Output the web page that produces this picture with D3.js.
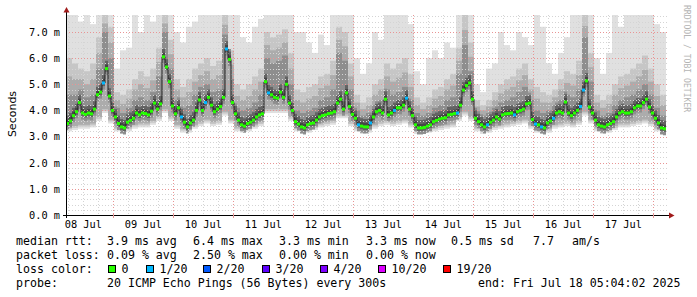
<!DOCTYPE html>
<html>
<head>
<meta charset="utf-8">
<script src="https://cdn.jsdelivr.net/npm/d3@7/dist/d3.min.js"></script>
<style>
	body { margin: 0; background: #fff; }
	text { font-family: "DejaVu Sans Mono", monospace; }
</style>
</head>
<body>
<svg id="canvas"></svg>
<script>
var width = 697,
	height = 297;

// 10 day window
var start = Date.UTC(2025, 6, 8, 5, 4, 2),
	end = Date.UTC(2025, 6, 18, 5, 4, 2);

// median rtt (ms), one value per 72 min column
var median = [
	3.5, 3.6, 3.8, 3.95, 4.3, 3.9, 3.85, 3.9, 3.87, 4.05,
	4.6, 4.7, 5.05, 5.6, 4.55, 4.0, 3.75, 3.5, 3.37, 3.33,
	3.55, 3.62, 3.7, 3.9, 3.83, 3.9, 3.88, 3.83, 3.97, 4.28,
	4.05, 4.25, 6.05, 5.66, 5.1, 4.17, 3.87, 4.1, 3.75, 3.55,
	3.37, 3.52, 3.63, 4.0, 4.4, 4.0, 4.3, 4.5, 4.2, 3.95,
	4.05, 4.15, 4.5, 6.35, 5.95, 4.3, 3.87, 3.63, 3.45, 3.4,
	3.5, 3.55, 3.63, 3.75, 3.83, 3.87, 5.1, 4.67, 4.6, 4.5,
	4.47, 4.7, 4.5, 5.0, 4.28, 4.0, 3.57, 3.48, 3.37, 3.33,
	3.45, 3.5, 3.52, 3.63, 3.75, 3.8, 3.83, 3.88, 3.9, 3.95,
	4.28, 4.43, 4.05, 4.67, 4.15, 3.85, 3.7, 3.45, 3.4, 3.37,
	3.37, 3.52, 3.75, 3.95, 4.0, 3.9, 4.43, 3.83, 3.9, 4.0,
	4.1, 4.1, 4.2, 4.47, 4.05, 3.8, 3.45, 3.33, 3.33, 3.35,
	3.4, 3.45, 3.57, 3.62, 3.67, 3.7, 3.72, 3.83, 3.85, 3.88,
	3.9, 4.2, 4.78, 4.95, 5.05, 4.43, 3.7, 3.57, 3.45, 3.37,
	3.45, 3.55, 3.63, 3.75, 3.67, 3.83, 3.87, 3.88, 3.9, 3.83,
	3.95, 4.0, 4.05, 4.25, 4.28, 3.65, 3.48, 3.45, 3.37, 3.33,
	3.52, 3.6, 3.7, 3.9, 3.95, 3.9, 4.32, 3.9, 3.8, 3.9,
	4.0, 4.15, 4.78, 5.13, 4.13, 3.9, 3.63, 3.45, 3.4, 3.37,
	3.45, 3.5, 3.57, 3.75, 3.9, 3.95, 3.9, 3.9, 3.95, 4.1,
	4.17, 4.17, 4.3, 4.43, 4.13, 3.9, 3.7, 3.52, 3.33, 3.3
];

// columns that lost pings, and how many of 20
var lossCols = [12, 38, 46, 53, 67, 97, 101, 109, 113, 130, 140, 149, 156, 158, 162, 171, 172];
var lossPings = [1, 1, 1, 1, 1, 1, 1, 1, 1, 1, 1, 1, 1, 1, 1, 1, 1];

// smoke, one value per 144 min column (ms)
var smokeTop = [
	7.65, 7.65, 7.4, 7.65, 7.3, 7.65, 7.65, 7.65, 5.6, 6.3,
	6.4, 7.65, 7.0, 7.65, 7.4, 7.65, 7.65, 7.65, 7.0, 6.6,
	7.2, 7.4, 7.65, 7.65, 7.65, 7.65, 7.65, 7.65, 7.65, 6.8,
	6.6, 7.2, 7.5, 7.65, 7.65, 7.65, 7.65, 7.65, 7.0, 7.0,
	6.6, 6.2, 6.9, 6.5, 7.65, 7.65, 7.65, 7.65, 6.0, 5.4,
	5.8, 7.0, 6.7, 7.65, 7.65, 7.65, 7.65, 7.3, 5.5, 5.0,
	6.0, 6.3, 6.0, 6.6, 6.4, 7.65, 7.65, 7.65, 5.0, 4.7,
	5.6, 5.8, 7.0, 6.5, 6.3, 7.0, 6.8, 6.5, 7.65, 7.2,
	5.8, 5.4, 6.2, 6.8, 7.65, 7.65, 7.65, 7.65, 6.0, 5.4,
	6.2, 7.65, 7.2, 7.65, 7.65, 7.65, 7.65, 7.65, 7.3, 7.0
];
var smokeP90 = [
	6.0, 5.8, 5.6, 5.5, 5.8, 6.8, 7.65, 7.2, 4.7, 4.6,
	4.8, 5.2, 5.5, 5.3, 5.6, 6.4, 7.65, 6.7, 5.2, 4.9,
	5.2, 5.6, 5.8, 6.0, 5.7, 5.9, 7.65, 6.3, 5.0, 4.8,
	5.0, 5.3, 5.6, 7.0, 6.8, 6.9, 7.1, 6.2, 4.8, 4.7,
	4.9, 5.0, 5.3, 5.4, 5.9, 7.2, 7.0, 5.8, 4.6, 4.3,
	4.5, 5.0, 5.2, 5.8, 5.6, 5.8, 6.0, 5.4, 4.5, 4.3,
	4.5, 4.8, 4.9, 5.2, 5.4, 6.4, 7.65, 6.6, 4.4, 4.2,
	4.4, 4.7, 5.0, 5.2, 5.3, 5.6, 5.8, 5.2, 4.9, 4.7,
	4.6, 4.8, 5.2, 5.5, 5.4, 5.9, 7.65, 6.2, 4.6, 4.4,
	4.6, 5.0, 5.3, 5.4, 5.6, 5.8, 6.1, 5.6, 5.0, 4.6
];
var smokeP75 = [
	4.6, 4.6, 4.8, 4.5, 4.6, 5.6, 7.0, 6.0, 4.1, 3.9,
	4.1, 4.4, 4.5, 4.4, 4.7, 5.3, 7.0, 5.6, 4.4, 4.1,
	4.2, 4.6, 4.9, 5.0, 4.7, 4.8, 6.9, 5.2, 4.1, 4.0,
	4.1, 4.3, 4.6, 6.0, 5.8, 5.9, 6.1, 5.0, 4.0, 3.9,
	4.0, 4.1, 4.4, 4.5, 4.8, 6.2, 5.9, 4.8, 4.0, 3.8,
	3.9, 4.2, 4.4, 4.8, 4.6, 4.7, 4.9, 4.4, 3.9, 3.8,
	3.9, 4.1, 4.2, 4.4, 4.5, 5.4, 6.5, 5.5, 3.9, 3.8,
	3.9, 4.1, 4.3, 4.4, 4.5, 4.7, 4.9, 4.4, 4.0, 3.9,
	4.0, 4.2, 4.4, 4.6, 4.5, 4.8, 6.8, 5.1, 4.0, 3.8,
	3.9, 4.2, 4.4, 4.5, 4.6, 4.8, 5.0, 4.6, 4.1, 3.8
];
var smokeMin = [
	3.2, 3.25, 3.3, 3.3, 3.35, 3.6, 3.9, 3.5, 3.2, 3.1,
	3.2, 3.3, 3.35, 3.35, 3.45, 3.6, 3.9, 3.6, 3.3, 3.15,
	3.15, 3.3, 3.4, 3.5, 3.4, 3.45, 3.8, 3.5, 3.2, 3.15,
	3.2, 3.3, 3.4, 3.9, 3.9, 3.9, 3.9, 3.6, 3.2, 3.1,
	3.15, 3.25, 3.35, 3.4, 3.45, 3.7, 3.7, 3.4, 3.2, 3.1,
	3.15, 3.3, 3.4, 3.45, 3.4, 3.45, 3.5, 3.35, 3.1, 3.1,
	3.15, 3.2, 3.25, 3.3, 3.35, 3.6, 3.8, 3.6, 3.2, 3.1,
	3.15, 3.25, 3.3, 3.35, 3.4, 3.45, 3.5, 3.3, 3.15, 3.1,
	3.15, 3.3, 3.35, 3.4, 3.35, 3.45, 3.8, 3.5, 3.2, 3.1,
	3.15, 3.25, 3.35, 3.35, 3.4, 3.45, 3.5, 3.4, 3.2, 3.1
];

var yTicks = [0, 1, 2, 3, 4, 5, 6, 7];

var lossLabels = ["0", "1/20", "2/20", "3/20", "4/20", "10/20", "19/20"];
var lossLevels = [0, 1, 2, 3, 4, 10, 19];
var lossColors = ["#26ff00", "#00b8ff", "#0059ff", "#5e00ff", "#7e00ff", "#dd00ff", "#ff0000"];

var legendRows = [
	[[16, "median rtt:"], [107, "3.9 ms avg"], [193, "6.4 ms max"], [279, "3.3 ms min"],
		[366, "3.3 ms now"], [451, "0.5 ms sd"], [533, "7.7"], [572, "am/s"]],
	[[16, "packet loss:"], [107, "0.09 % avg"], [193, "2.50 % max"], [279, "0.00 % min"], [366, "0.00 % now"]],
	[[16, "loss color:"]],
	[[16, "probe:"], [107, "20 ICMP Echo Pings (56 Bytes) every 300s"], [478, "end: Fri Jul 18 05:04:02 2025"]]
];

var svg = d3.select("#canvas")
	.attr("width", width)
	.attr("height", height)
	.style("display", "block");

svg.append("rect")
	.attr("width", width)
	.attr("height", height)
	.attr("fill", "#fff");

var x = d3.scaleUtc()
	.domain([start, end])
	.range([66, 666]);

var y = d3.scaleLinear()
	.domain([0, 7.65])
	.range([215, 15]);

var step = (end - start) / median.length,
	smokeStep = (end - start) / smokeTop.length;

function lossColor(n) {
	var c = lossColors[0];
	lossLevels.forEach(function(l, k) {
		if (n >= l) c = lossColors[k];
	});
	return c;
}

var loss = median.map(function() { return 0; });
lossCols.forEach(function(c, k) { loss[c] = lossPings[k]; });

// smoke, coarse bands
var smoke = svg.append("g");
var coarse = d3.range(smokeTop.length);

function band(cls, lo, hi, fill) {
	smoke.selectAll("." + cls)
		.data(coarse)
		.enter()
		.append("rect")
		.attr("x", function(j) { return x(start + j * smokeStep); })
		.attr("width", function(j) { return x(start + (j + 1) * smokeStep) - x(start + j * smokeStep); })
		.attr("y", function(j) { return y(hi(j)); })
		.attr("height", function(j) { return Math.max(0, y(lo(j)) - y(hi(j))); })
		.attr("fill", fill);
}

band("s1", function(j) { return smokeMin[j]; }, function(j) { return smokeTop[j]; }, "#e0e0e0");
band("s2", function(j) { return smokeMin[j] + 0.08; }, function(j) { return smokeP90[j]; }, "#c6c6c6");
band("s3", function(j) { return smokeMin[j] + 0.15; },
	function(j) { return (smokeP90[j] + smokeP75[j]) / 2; }, "#acacac");

// finer bands that follow the median
var cols = d3.range(median.length);

function fine(lo, hi, fill) {
	smoke.append("g")
		.selectAll("rect")
		.data(cols)
		.enter()
		.append("rect")
		.attr("x", function(i) { return x(start + i * step); })
		.attr("width", function(i) { return x(start + (i + 1) * step) - x(start + i * step); })
		.attr("y", function(i) { return y(hi(i)); })
		.attr("height", function(i) { return Math.max(0, y(lo(i)) - y(hi(i))); })
		.attr("fill", fill);
}

fine(function(i) { return median[i] - 0.25; },
	function(i) { return Math.max(smokeP75[Math.floor(i / 2)], median[i] + 0.4); }, "#8e8e8e");
fine(function(i) { return median[i] - 0.12; }, function(i) { return median[i] + 0.3; }, "#636363");
fine(function(i) { return median[i] - 0.05; }, function(i) { return median[i] + 0.15; }, "#454545");

// grid
var grid = svg.append("g");

var minorY = d3.range(1, 39).map(function(k) { return k * 0.2; })
	.filter(function(v) { return Math.abs(v - Math.round(v)) > 0.01; });

grid.selectAll(".hy")
	.data(minorY)
	.enter()
	.append("line")
	.attr("x1", 66).attr("x2", 669)
	.attr("y1", function(d) { return Math.round(y(d)) + 0.5; })
	.attr("y2", function(d) { return Math.round(y(d)) + 0.5; })
	.attr("stroke", "#d4d4d4")
	.attr("stroke-dasharray", "1,2");

var hours = d3.utcHour.every(6).range(start, end)
	.filter(function(d) { return d.getUTCHours() != 0; });

grid.selectAll(".vx")
	.data(hours)
	.enter()
	.append("line")
	.attr("y1", 15).attr("y2", 215)
	.attr("x1", function(d) { return Math.round(x(d)) + 0.5; })
	.attr("x2", function(d) { return Math.round(x(d)) + 0.5; })
	.attr("stroke", "#d4d4d4")
	.attr("stroke-dasharray", "1,2");

grid.selectAll(".my")
	.data(yTicks.slice(1))
	.enter()
	.append("line")
	.attr("x1", 66).attr("x2", 669)
	.attr("y1", function(d) { return Math.round(y(d)) + 0.5; })
	.attr("y2", function(d) { return Math.round(y(d)) + 0.5; })
	.attr("stroke", "#e89494")
	.attr("stroke-dasharray", "1,2");

var days = d3.utcDay.range(start, end);

grid.selectAll(".mx")
	.data(days)
	.enter()
	.append("line")
	.attr("y1", 15).attr("y2", 215)
	.attr("x1", function(d) { return Math.round(x(d)) + 0.5; })
	.attr("x2", function(d) { return Math.round(x(d)) + 0.5; })
	.attr("stroke", "#e89494")
	.attr("stroke-dasharray", "1,2");

// median line then loss colored blocks
var line = d3.line()
	.x(function(d) { return x(start + d[0] * step); })
	.y(function(d) { return y(d[1]); })
	.curve(d3.curveStepAfter);

var pts = cols.map(function(i) { return [i, median[i]]; });
pts.push([median.length, median[median.length - 1]]);

svg.append("path")
	.attr("d", line(pts))
	.attr("fill", "none")
	.attr("stroke", "#202020")
	.attr("stroke-width", 1);

svg.append("g")
	.selectAll("rect")
	.data(cols)
	.enter()
	.append("rect")
	.attr("x", function(i) { return x(start + i * step); })
	.attr("width", function(i) { return x(start + (i + 1) * step) - x(start + i * step); })
	.attr("y", function(i) { return y(median[i]) - 1.5; })
	.attr("height", 3)
	.attr("fill", function(i) { return lossColor(loss[i]); });

// axes
var axis = svg.append("g");

axis.append("line")
	.attr("x1", 66.5).attr("x2", 66.5)
	.attr("y1", 218).attr("y2", 12)
	.attr("stroke", "#000");

axis.append("line")
	.attr("x1", 63).attr("x2", 670)
	.attr("y1", 215.5).attr("y2", 215.5)
	.attr("stroke", "#000");

axis.append("path")
	.attr("d", "M63.5,12.5 L69.5,12.5 L66.5,7 Z")
	.attr("fill", "#a01a1a");

axis.append("path")
	.attr("d", "M669,212.5 L669,218.5 L674.5,215.5 Z")
	.attr("fill", "#a01a1a");

axis.selectAll(".tk")
	.data(days)
	.enter()
	.append("line")
	.attr("x1", function(d) { return Math.round(x(d)) + 0.5; })
	.attr("x2", function(d) { return Math.round(x(d)) + 0.5; })
	.attr("y1", 213).attr("y2", 218)
	.attr("stroke", "#e89494");

axis.selectAll(".ylab")
	.data(yTicks)
	.enter()
	.append("text")
	.attr("x", 60)
	.attr("y", function(d) { return y(d) + 3.8; })
	.attr("text-anchor", "end")
	.style("font-size", "10.3px")
	.text(function(d) { return d.toFixed(1) + " m"; });

var fmt = d3.utcFormat("%d %b");

axis.selectAll(".xlab")
	.data(d3.utcDay.range(Date.UTC(2025, 6, 8), Date.UTC(2025, 6, 18)))
	.enter()
	.append("text")
	.attr("x", function(d) { return x(d3.utcHour.offset(d, 12)); })
	.attr("y", 227.5)
	.attr("text-anchor", "middle")
	.style("font-size", "10.3px")
	.text(function(d) { return fmt(d); });

svg.append("text")
	.attr("transform", "translate(15.5,114) rotate(-90)")
	.attr("text-anchor", "middle")
	.style("font-family", "'DejaVu Sans', sans-serif")
	.style("font-size", "11px")
	.text("Seconds");

svg.append("text")
	.attr("transform", "translate(684,5) rotate(90)")
	.style("font-size", "8.1px")
	.attr("fill", "#b4b4b4")
	.text("RRDTOOL / TOBI OETIKER");

// legend
var baselines = [245, 259, 273, 287];

legendRows.forEach(function(row, r) {
	svg.append("g")
		.selectAll("text")
		.data(row)
		.enter()
		.append("text")
		.attr("x", function(d) { return d[0]; })
		.attr("y", baselines[r])
		.style("font-size", "11.6px")
		.style("white-space", "pre")
		.text(function(d) { return d[1]; });
});

var swatchX = [108, 146, 203, 262, 320, 378, 443];

var sw = svg.append("g")
	.selectAll("g")
	.data(lossLabels)
	.enter()
	.append("g");

sw.append("rect")
	.attr("x", function(d, k) { return swatchX[k] + 0.5; })
	.attr("y", 265.5)
	.attr("width", 7)
	.attr("height", 7)
	.attr("fill", function(d, k) { return lossColors[k]; })
	.attr("stroke", "#000");

sw.append("text")
	.attr("x", function(d, k) { return swatchX[k] + 13.5; })
	.attr("y", 273)
	.style("font-size", "11.6px")
	.text(function(d) { return d; });
</script>
</body>
</html>
